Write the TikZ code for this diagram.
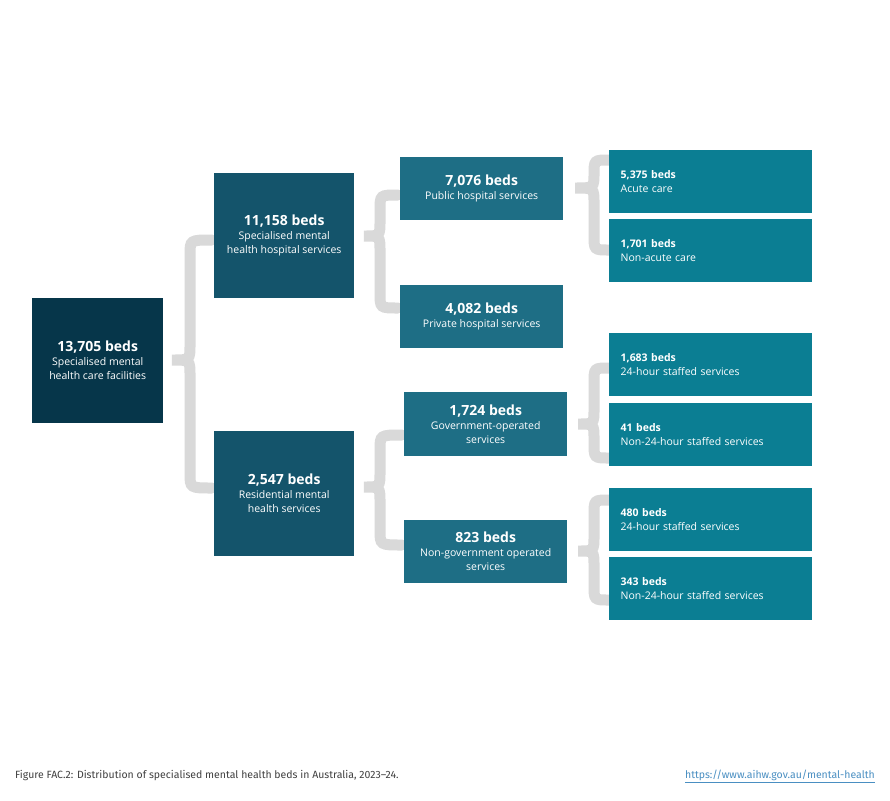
\documentclass[tikz,border=0pt]{standalone}
\usepackage{fontspec}
\setmainfont{Open Sans}
\newfontfamily\capfont{Fira Sans}
\definecolor{cA}{HTML}{06364A}
\definecolor{cB}{HTML}{14546B}
\definecolor{cC}{HTML}{1E6E85}
\definecolor{cD}{HTML}{0B7E93}
\definecolor{gbr}{HTML}{D9D9D9}
\definecolor{lnk}{HTML}{4A8FC2}
\newcommand\gbrace[6]{\draw[brc] (#4,#5) .. controls (#3,#5) .. ({#3},{#5+15}) -- ({#3},{#2-15}) .. controls (#3,#2) .. (#1,#2) .. controls (#3,#2) .. ({#3},{#2+15}) -- ({#3},{#6-15}) .. controls (#3,#6) .. (#4,#6);}
\newcommand\bnum[1]{{\fontsize{14}{17}\selectfont\bfseries #1}}
\tikzset{
 brc/.style={gbr,line width=11pt,line cap=round},
 bx/.style={anchor=north west,inner sep=0pt,text=white,align=center,font=\fontsize{10.5}{14}\selectfont},
 lf/.style={bx,fill=cD,minimum width=203pt,minimum height=63pt,text width=180pt,align=left},
}
\begin{document}
\begin{tikzpicture}[x=1pt,y=-1pt]
\useasboundingbox[fill=white] (0,0) rectangle (890,800);
% braces
\gbrace{172}{360}{190}{212}{240}{488}
\gbrace{364}{236}{380}{398}{195}{308}
\gbrace{364}{487}{380}{402}{435}{545}
\gbrace{575}{188}{594}{609}{160}{250}
\gbrace{578}{424}{594}{609}{368}{458}
\gbrace{578}{551}{594}{609}{500}{600}
% boxes
\node[bx,fill=cA,minimum width=131pt,minimum height=125pt] (r) at (32,298) {\bnum{13,705 beds}\\Specialised mental\\health care facilities};
\node[bx,fill=cB,minimum width=140pt,minimum height=125pt] (h) at (214,173) {\bnum{11,158 beds}\\Specialised mental\\health hospital services};
\node[bx,fill=cB,minimum width=140pt,minimum height=125pt] (res) at (214,431) {\bnum{2,547 beds}\\Residential mental\\health services};
\node[bx,fill=cC,minimum width=163pt,minimum height=63pt] (pub) at (400,157) {\bnum{7,076 beds}\\Public hospital services};
\node[bx,fill=cC,minimum width=163pt,minimum height=63pt] (pri) at (400,285) {\bnum{4,082 beds}\\Private hospital services};
\node[bx,fill=cC,minimum width=163pt,minimum height=64pt] (gov) at (404,392) {\bnum{1,724 beds}\\Government-operated\\services};
\node[bx,fill=cC,minimum width=163pt,minimum height=63pt] (ngo) at (404,520) {\bnum{823 beds}\\Non-government operated\\services};
\node[lf] (l1) at (609,150) {\textbf{5,375 beds}\\Acute care};
\node[lf] (l2) at (609,219) {\textbf{1,701 beds}\\Non-acute care};
\node[lf] (l3) at (609,333) {\textbf{1,683 beds}\\24-hour staffed services};
\node[lf] (l4) at (609,403) {\textbf{41 beds}\\Non-24-hour staffed services};
\node[lf] (l5) at (609,488) {\textbf{480 beds}\\24-hour staffed services};
\node[lf] (l6) at (609,557) {\textbf{343 beds}\\Non-24-hour staffed services};
% caption
\node[anchor=west,inner sep=0pt,text=black!75,font=\capfont\fontsize{10.5}{12}\selectfont] (cap) at (15,776) {Figure FAC.2: Distribution of specialised mental health beds in Australia, 2023–24.};
\node[anchor=east,inner sep=0pt,text=lnk,font=\capfont\fontsize{10.5}{12}\selectfont] (url) at (875,776) {\underline{https://www.aihw.gov.au/mental-health}};
\end{tikzpicture}
\end{document}
